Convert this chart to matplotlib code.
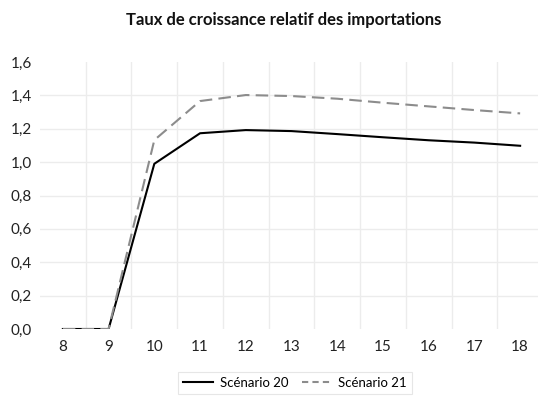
import matplotlib
matplotlib.use("Agg")
import matplotlib.pyplot as plt
import numpy as np

# horizon (années) et taux de croissance relatif des importations
annees = [8, 9, 10, 11, 12, 13, 14, 15, 16, 17, 18]
scenario_20 = [0.0, 0.0, 0.99, 1.173, 1.192, 1.186, 1.168, 1.149, 1.131, 1.117, 1.098]
scenario_21 = [0.0, 0.0, 1.132, 1.366, 1.402, 1.396, 1.380, 1.356, 1.334, 1.312, 1.292]
yticks = [0.0, 0.2, 0.4, 0.6, 0.8, 1.0, 1.2, 1.4, 1.6]

plt.rcParams['font.family'] = ['Lato', 'DejaVu Sans']

fig = plt.figure(figsize=(5.38, 3.97), dpi=100)
ax = fig.add_axes([40/538, 68/397, 503/538, 267/397])

ax.plot(annees, scenario_20, color='black', linewidth=1.5, label='Scénario 20', zorder=3)
ax.plot(annees, scenario_21, color='#8c8c8c', linewidth=1.5, dashes=(6, 3),
        label='Scénario 21', zorder=3)

ax.set_xlim(7.5, 18.5)
ax.set_ylim(0, 1.6)
ax.set_xticks(annees)
ax.set_yticks(yticks)
ax.set_yticklabels([('%.1f' % v).replace('.', ',') for v in yticks])
ax.tick_params(length=0, labelsize=11, colors='#222222', pad=8)
ax.tick_params(axis='y', pad=6)

# quadrillage : lignes entre les années et aux graduations intérieures
for x in np.arange(8.5, 18.5, 1.0):
    ax.axvline(x, color='#ececec', linewidth=1, zorder=1)
for y in yticks[1:-1]:
    ax.axhline(y, color='#ececec', linewidth=1, zorder=1)

for s in ax.spines.values():
    s.set_visible(False)

fig.text(0.528, 0.95, 'Taux de croissance relatif des importations',
         ha='center', va='center', fontsize=12, fontweight='bold', color='#111111')

leg = fig.legend(loc='center', bbox_to_anchor=(295/538, 1 - 383/397), ncol=2,
                 frameon=True, fontsize=9.5, handlelength=2.3, handletextpad=0.5,
                 columnspacing=1.0, borderpad=0.4, fancybox=False)
leg.get_lines()[1].set_dashes((3, 2))
leg.get_frame().set_edgecolor('#e0e0e0')
leg.get_frame().set_linewidth(0.8)

fig.savefig('out.png', dpi=100)
